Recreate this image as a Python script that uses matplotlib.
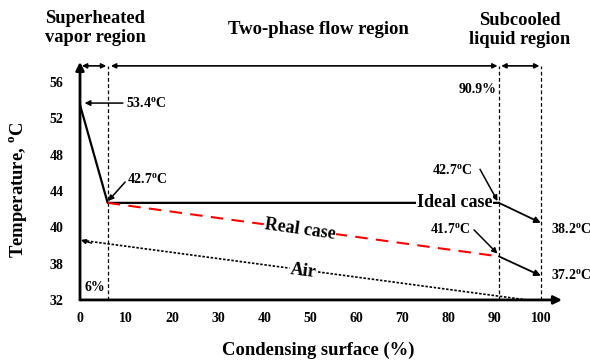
import numpy as np
import matplotlib
matplotlib.use('Agg')
import matplotlib.pyplot as plt
from matplotlib.scale import FuncScale

plt.rcParams['font.family'] = ['Liberation Serif', 'DejaVu Serif']
plt.rcParams['font.weight'] = 'bold'
plt.rcParams['mathtext.fontset'] = 'custom'
plt.rcParams['mathtext.rm'] = 'Liberation Serif:bold'
plt.rcParams['mathtext.bf'] = 'Liberation Serif:bold'

# temperature axis is drawn with evenly spaced (non-uniform) ticks
y_ticks = [32, 38, 40, 44, 48, 52, 56]
x_ticks = [0, 10, 20, 30, 40, 50, 60, 70, 80, 90, 100]

# region boundaries (% of condensing surface)
x_sh_end = 6.0
x_tp_end = 90.9
x_end = 100.0

# ideal case: superheated drop, then isothermal condensation, then subcooling
ideal_x = [0, 6.0, 90.9]
ideal_y = [53.5, 42.7, 42.7]
ideal_sub_y = 40.5
# real case: pressure drop lowers the saturation temperature
real_x = [6.0, 90.9]
real_y = [42.7, 38.4]
real_sub_y = 36.0
# air temperature (counter flow)
air_x = [97.0, 0.0]
air_y = [32.0, 39.3]

knots_t = y_ticks + [60, 64]
knots_p = list(range(len(knots_t)))


def fwd(t):
    return np.interp(t, knots_t, knots_p)


def inv(p):
    return np.interp(p, knots_p, knots_t)


fig = plt.figure(figsize=(5.9, 3.64), dpi=100)
ax = fig.add_axes([0.1356, 0.176, 0.817, 0.654])
ax.set_yscale(FuncScale(ax.yaxis, (fwd, inv)))
ax.set_xlim(0, 104.6)
ax.set_ylim(32, 58.24)
ax.set_yticks(y_ticks)
ax.set_xticks(x_ticks)
ax.tick_params(length=0, labelsize=10)
ax.tick_params(axis='y', pad=12)
ax.tick_params(axis='x', pad=9)
for s in ax.spines.values():
    s.set_visible(False)

# axes with arrow heads
ax.annotate('', xy=(0, 1), xytext=(0, 0), xycoords='axes fraction',
            arrowprops=dict(arrowstyle='-|>', lw=2, color='black',
                            mutation_scale=12, shrinkA=0, shrinkB=0))
ax.annotate('', xy=(1, 0), xytext=(0, 0), xycoords='axes fraction',
            arrowprops=dict(arrowstyle='-|>', lw=2, color='black',
                            mutation_scale=12, shrinkA=0, shrinkB=0))

y_top = 57.8
for xv in [x_sh_end, x_tp_end, x_end]:
    ax.plot([xv, xv], [32, y_top], color='black', lw=0.9, ls=(0, (3, 2)))

# region span arrows
def span(x0, x1):
    ax.annotate('', xy=(x1, y_top), xytext=(x0, y_top),
                arrowprops=dict(arrowstyle='<|-|>', lw=1.2, color='black',
                                mutation_scale=7, shrinkA=0, shrinkB=0))

span(0.4, x_sh_end - 0.3)
span(x_sh_end + 0.7, x_tp_end - 0.3)
span(x_tp_end + 0.5, x_end - 0.3)

# curves
ax.plot(ideal_x, ideal_y, color='black', lw=1.6, zorder=3)
ax.plot(real_x, real_y, color='red', lw=1.5, ls=(0, (6, 4)), zorder=3)
ax.plot(air_x, air_y, color='black', lw=1.2, ls=(0, (1.5, 1)), zorder=3)
ax.annotate('', xy=(0.2, air_y[-1]), xytext=(2.5, 39.13),
            arrowprops=dict(arrowstyle='-|>', lw=1.0, color='black',
                            mutation_scale=7, shrinkA=0, shrinkB=0))

ax.annotate('', xy=(x_end, ideal_sub_y), xytext=(x_tp_end, ideal_y[-1]),
            arrowprops=dict(arrowstyle='-|>', lw=1.3, color='black',
                            mutation_scale=9, shrinkA=0, shrinkB=0))
ax.annotate('', xy=(x_end, real_sub_y), xytext=(x_tp_end, real_y[-1]),
            arrowprops=dict(arrowstyle='-|>', lw=1.3, color='black',
                            mutation_scale=9, shrinkA=0, shrinkB=0))

# pointer arrows to temperature labels
def pointer(x0, y0, x1, y1):
    ax.annotate('', xy=(x1, y1), xytext=(x0, y0),
                arrowprops=dict(arrowstyle='-|>', lw=1.1, color='black',
                                mutation_scale=8, shrinkA=0, shrinkB=0))

pointer(9.3, 53.7, 1.0, 53.7)
pointer(9.8, 45.0, 6.1, 42.9)
pointer(86.8, 46.4, 90.6, 42.9)
pointer(85.5, 39.86, 90.6, 38.55)

deg = r'$^{\rm o}$C'
fs = 10
ax.text(10.0, 53.7, '53.4' + deg, fontsize=fs, ha='left', va='center')
ax.text(10.2, 45.3, '42.7' + deg, fontsize=fs, ha='left', va='center')
ax.text(80.7, 46.3, '42.7' + deg, fontsize=fs, ha='center', va='center')
ax.text(80.3, 39.86, '41.7' + deg, fontsize=fs, ha='center', va='center')
ax.text(102.2, 39.86, '38.2' + deg, fontsize=fs, ha='left', va='center',
        clip_on=False)
ax.text(102.2, 36.1, '37.2' + deg, fontsize=fs, ha='left', va='center',
        clip_on=False)
ax.text(90.4, 55.2, '90.9%', fontsize=fs, ha='right', va='center')
ax.text(3.2, 34.0, '6%', fontsize=fs, ha='center', va='center')

# curve names
box = dict(facecolor='white', edgecolor='none', pad=0.5)
ax.text(81.3, 42.7, 'Ideal case', fontsize=13, ha='center', va='center',
        bbox=box, zorder=4)
ax.text(47.7, 39.86, 'Real case', fontsize=13, ha='center', va='center',
        rotation=-8, bbox=box, zorder=4)
ax.text(48.4, 36.8, 'Air', fontsize=13, ha='center', va='center',
        rotation=-7, bbox=box, zorder=4)

# region names
fig.text(95 / 590, 1 - 28 / 364, 'Superheated\nvapor region', fontsize=13.3,
         ha='center', va='center', linespacing=1.1)
fig.text(318 / 590, 1 - 30 / 364, 'Two-phase flow region', fontsize=13.5,
         ha='center', va='center')
fig.text(520 / 590, 1 - 30 / 364, 'Subcooled\nliquid region', fontsize=13.3,
         ha='center', va='center', linespacing=1.1)

fig.text(18 / 590, 1 - 190 / 364, 'Temperature, ' + deg, fontsize=13.4,
         rotation=90, ha='center', va='center')
fig.text(318 / 590, 1 - 350 / 364, 'Condensing surface (%)', fontsize=13.4,
         ha='center', va='center')

fig.savefig('out.png', dpi=100)
